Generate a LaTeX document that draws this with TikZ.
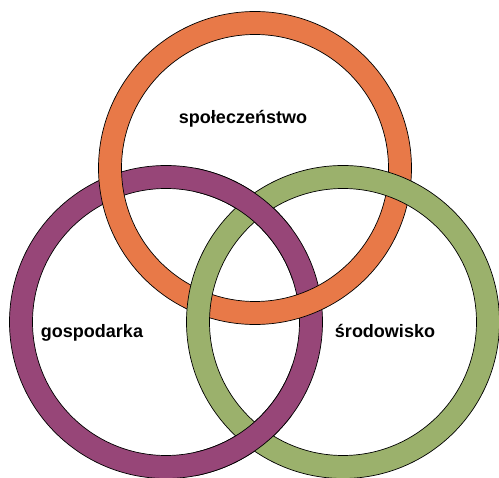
\documentclass[tikz,border=0pt]{standalone}
\usepackage{fontspec}
\setmainfont{Liberation Sans}
\definecolor{RingOrange}{RGB}{232,121,72}
\definecolor{RingPurple}{RGB}{151,70,120}
\definecolor{RingGreen}{RGB}{155,177,108}
\begin{document}
\begin{tikzpicture}[x=1pt,y=-1pt]
    \tikzset{ring/.style={even odd rule,draw=black,line width=0.7pt},
      lbl/.style={anchor=base,font=\fontsize{18}{20}\selectfont\bfseries}}
    \useasboundingbox (0,0) rectangle (499,478);
    \coordinate (spo) at (255,168);
    \coordinate (gos) at (166,322);
    \coordinate (sro) at (343,322);
    % purple under orange, orange under green
    \path[ring,fill=RingPurple] (gos) circle[radius=156.5pt] (gos) circle[radius=133.5pt];
    \path[ring,fill=RingOrange] (spo) circle[radius=156.5pt] (spo) circle[radius=133.5pt];
    \path[ring,fill=RingGreen] (sro) circle[radius=156.5pt] (sro) circle[radius=133.5pt];
    % purple back on top of green
    \begin{scope}
      \clip (195,0) rectangle (292,478);
      \path[ring,fill=RingPurple] (gos) circle[radius=156.5pt] (gos) circle[radius=133.5pt];
    \end{scope}
    \node[lbl] (spoL) at (243,124) {społeczeństwo};
    \node[lbl] (gosL) at (92,338) {gospodarka};
    \node[lbl] (sroL) at (385,338) {środowisko};
  \end{tikzpicture}
\end{document}
